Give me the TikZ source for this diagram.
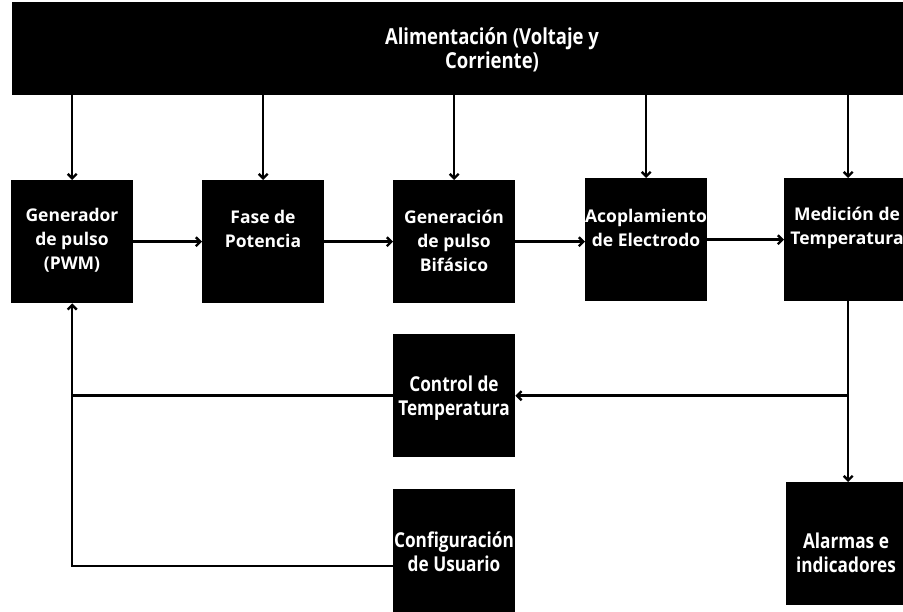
\documentclass[tikz,border=0pt]{standalone}
\usepackage{fontspec}
\setmainfont{Open Sans}
\newfontfamily\condfont{Open Sans}[FakeStretch=0.84]
\usetikzlibrary{arrows.meta}
\begin{document}
\begin{tikzpicture}[x=1pt,y=-1pt,
  blk/.style={fill=black, draw=none, inner sep=0pt, anchor=north west},
  lbl/.style={text=white, font=\bfseries\fontsize{17.5}{24}\selectfont, align=center},
  clbl/.style={text=white, font=\condfont\bfseries\fontsize{20.5}{24}\selectfont, align=center},
  conn/.style={line width=2.4pt, -{Straight Barb[length=4.5pt,width=9pt]}},
  wire/.style={line width=2.4pt}]
\useasboundingbox (0,0) rectangle (903,612);
\fill[white] (0,0) rectangle (903,612);
% blocks
\node[blk, minimum width=900pt, minimum height=93pt] (top) at (12,2) {};
\node[blk, minimum width=122pt, minimum height=123pt] (gen) at (11,180) {};
\node[blk, minimum width=122pt, minimum height=123pt] (fase) at (202,180) {};
\node[blk, minimum width=122pt, minimum height=123pt] (bif) at (393,180) {};
\node[blk, minimum width=122pt, minimum height=123pt] (acop) at (585,178) {};
\node[blk, minimum width=128pt, minimum height=123pt] (med) at (784,178) {};
\node[blk, minimum width=122pt, minimum height=123pt] (ctrl) at (393,334) {};
\node[blk, minimum width=122pt, minimum height=123pt] (cfg) at (393,489) {};
\node[blk, minimum width=124pt, minimum height=123pt] (alarm) at (786,482) {};
% labels
\node[clbl, font=\condfont\bfseries\fontsize{22}{24}\selectfont] (topT) at (492,50) {Alimentación (Voltaje y\\Corriente)};
\node[lbl] (genT) at (72,240) {Generador\\de pulso\\(PWM)};
\node[lbl] (faseT) at (263,229) {Fase de\\Potencia};
\node[lbl] (bifT) at (454,241) {Generación\\de pulso\\Bifásico};
\node[lbl] (acopT) at (646,228) {Acoplamiento\\de Electrodo};
\node[lbl] (medT) at (847,228) {Medición de\\Temperatura};
\node[clbl] (ctrlT) at (454,398) {Control de\\Temperatura};
\node[clbl] (cfgT) at (454,552) {Configuración\\de Usuario};
\node[clbl] (alarmT) at (846,553) {Alarmas e\\indicadores};
% power arrows
\foreach \b in {gen,fase,bif,acop,med}
  \draw[conn] (\b.north |- top.south) -- (\b.north);
% main chain
\draw[conn] (gen.east) -- (fase.west);
\draw[conn] (fase.east) -- (bif.west);
\draw[conn] (bif.east) -- (bif.east -| acop.west);
\draw[conn] (acop.east) -- (med.west);
% measurement branches
\draw[conn] (med.south) -- (alarm.north);
\coordinate (jn) at (med.south |- ctrl.east);
\draw[conn] (jn) -- (ctrl.east);
\draw[conn] (ctrl.west) -- (gen.south |- ctrl.west) -- (gen.south);
\coordinate (cfgout) at ([yshift=-15pt]cfg.west);
\draw[wire] (cfgout) -- (gen.south |- cfgout) -- (gen.south |- ctrl.west);
\end{tikzpicture}
\end{document}
